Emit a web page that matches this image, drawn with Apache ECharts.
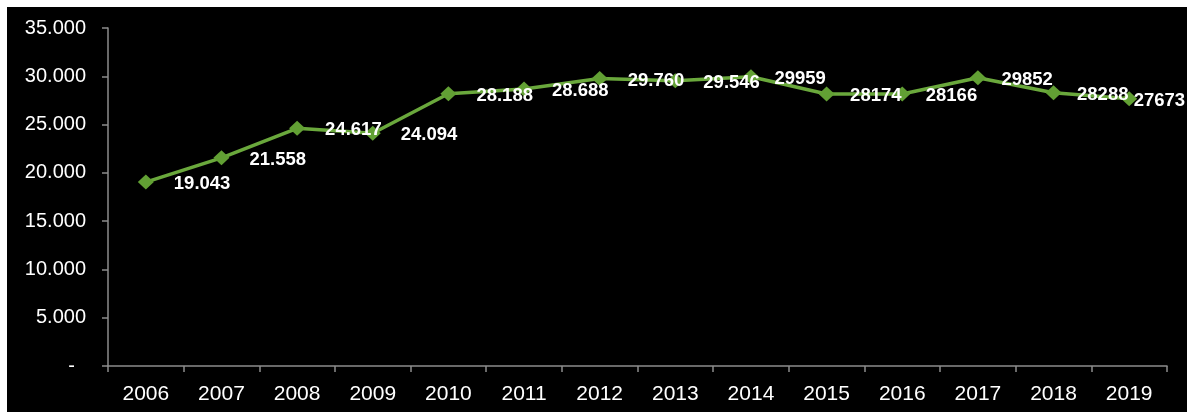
<!DOCTYPE html>
<html>
<head>
<meta charset="utf-8">
<script src="https://cdn.jsdelivr.net/npm/echarts@6/dist/echarts.min.js"></script>
<style>
html,body{margin:0;padding:0;background:#fff;}
#c{position:absolute;left:7px;top:7px;width:1180px;height:405px;background:#000;}
</style>
</head>
<body>
<div id="c"></div>
<script>
var categories = ['2006','2007','2008','2009','2010','2011','2012','2013','2014','2015','2016','2017','2018','2019'];
var values = [19043, 21558, 24617, 24094, 28188, 28688, 29760, 29546, 29959, 28174, 28166, 29852, 28288, 27673];
var valueLabels = ['19.043','21.558','24.617','24.094','28.188','28.688','29.760','29.546','29959','28174','28166','29852','28288','27673'];
var yTickLabels = {0:'-  ',5000:'5.000',10000:'10.000',15000:'15.000',20000:'20.000',25000:'25.000',30000:'30.000',35000:'35.000'};

function labelDistance(i){
  if (i < 8) return 20;
  if (i < categories.length - 1) return 15.5;
  return -3.5;
}

var seriesData = values.map(function(v, i){
  return {value: v, label: {distance: labelDistance(i)}};
});

var chart = echarts.init(document.getElementById('c'));
chart.setOption({
  backgroundColor: '#000',
  animation: false,
  grid: {left: 101, right: 20, top: 21, bottom: 46},
  xAxis: {
    type: 'category',
    data: categories,
    boundaryGap: true,
    axisLine: {lineStyle: {color: '#8c8c8c', width: 1.5}},
    axisTick: {show: true, length: 6, alignWithLabel: false, lineStyle: {color: '#8c8c8c', width: 1.5}},
    axisLabel: {color: '#fff', fontSize: 21, fontFamily: 'Liberation Sans, Arial', margin: 18}
  },
  yAxis: {
    type: 'value',
    min: 0, max: 35000, interval: 5000,
    axisLine: {show: true, lineStyle: {color: '#8c8c8c', width: 1.5}},
    axisTick: {show: true, length: 6, lineStyle: {color: '#8c8c8c', width: 1.5}},
    splitLine: {show: false},
    axisLabel: {color: '#fff', fontSize: 20, fontFamily: 'Liberation Sans, Arial', margin: 22,
      formatter: function(v){ return yTickLabels[v] !== undefined ? yTickLabels[v] : v; }}
  },
  series: [{
    type: 'line',
    data: seriesData,
    symbol: 'diamond',
    symbolSize: [16, 15],
    lineStyle: {color: '#6aa83c', width: 3.5},
    itemStyle: {color: '#62a034'},
    label: {
      show: true,
      position: 'right',
      offset: [0, 2],
      color: '#fff',
      fontSize: 18.5,
      fontWeight: 'bold',
      fontFamily: 'Liberation Sans, Arial',
      formatter: function(p){ return valueLabels[p.dataIndex]; }
    }
  }]
});
</script>
</body>
</html>
